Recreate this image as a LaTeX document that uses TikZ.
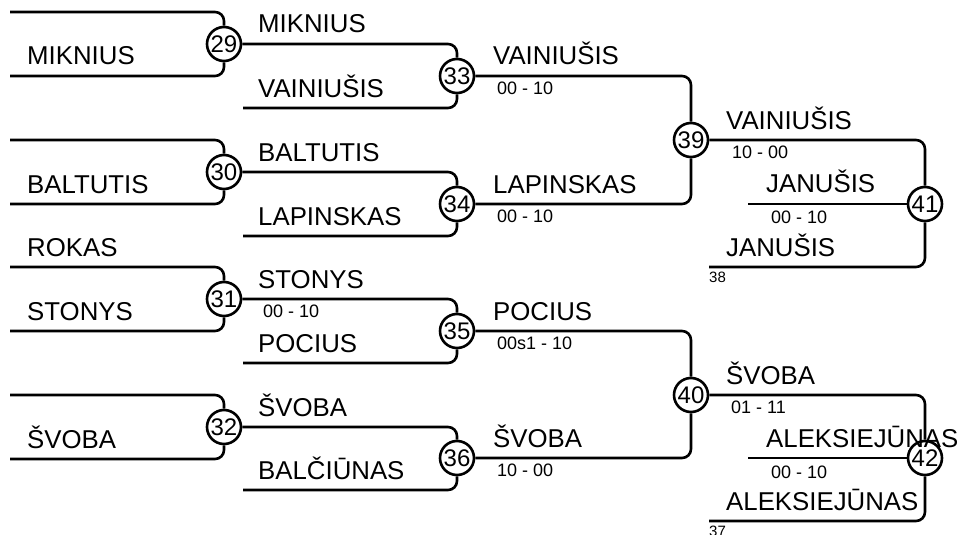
\documentclass[tikz,border=0pt]{standalone}
\usepackage{fontspec}
\setmainfont{Liberation Sans}
\begin{document}
\begin{tikzpicture}[x=1pt,y=-1pt,
  wire/.style={line width=2.6pt, rounded corners=9pt},
  num/.style={circle, draw, line width=2.6pt, fill=white, minimum size=34pt, inner sep=0pt, font=\fontsize{24}{24}\selectfont},
  pname/.style={anchor=base west, inner sep=0pt, font=\fontsize{25.8}{30}\selectfont},
  pscore/.style={anchor=base west, inner sep=0pt, font=\fontsize{18}{20}\selectfont},
  pseed/.style={anchor=base west, inner sep=0pt, font=\fontsize{15}{16}\selectfont}]
\useasboundingbox[fill=white] (0,0) rectangle (963,535);
% match circles
\node[num] (c29) at (224,44) {29};
\node[num] (c30) at (224,172) {30};
\node[num] (c31) at (224,299) {31};
\node[num] (c32) at (224,427) {32};
\node[num] (c33) at (457,76) {33};
\node[num] (c34) at (457,204) {34};
\node[num] (c35) at (457,331) {35};
\node[num] (c36) at (457,458) {36};
\node[num] (c39) at (691,140) {39};
\node[num] (c40) at (691,395) {40};
\node[num] (c41) at (925,204) {41};
\node[num] (c42) at (925,458) {42};
% free line ends
\coordinate (s29t) at (10,12);  \coordinate (s29b) at (10,76);
\coordinate (s30t) at (10,140); \coordinate (s30b) at (10,204);
\coordinate (s31t) at (10,267); \coordinate (s31b) at (10,331);
\coordinate (s32t) at (10,395); \coordinate (s32b) at (10,459);
\coordinate (s33b) at (243,108); \coordinate (s34b) at (243,236);
\coordinate (s35b) at (243,363); \coordinate (s36b) at (243,490);
\coordinate (m41) at (748,204); \coordinate (b41) at (709,267);
\coordinate (m42) at (748,458); \coordinate (b42) at (709,521);
% first round brackets
\foreach \m in {29,30,31,32}{
  \draw[wire] (s\m t) -| (c\m.north);
  \draw[wire] (s\m b) -| (c\m.south);
}
% second round
\draw[wire] (c29.east) -| (c33.north);
\draw[wire] (s33b) -| (c33.south);
\draw[wire] (c30.east) -| (c34.north);
\draw[wire] (s34b) -| (c34.south);
\draw[wire] (c31.east) -| (c35.north);
\draw[wire] (s35b) -| (c35.south);
\draw[wire] (c32.east) -| (c36.north);
\draw[wire] (s36b) -| (c36.south);
% third round
\draw[wire] (c33.east) -| (c39.north);
\draw[wire] (c34.east) -| (c39.south);
\draw[wire] (c35.east) -| (c40.north);
\draw[wire] (c36.east) -| (c40.south);
% final matches
\draw[wire] (c39.east) -| (c41.north);
\draw[wire] (m41) -- (c41.west);
\draw[wire] (b41) -| (c41.south);
\draw[wire] (c40.east) -| (c42.north);
\draw[wire] (m42) -- (c42.west);
\draw[wire] (b42) -| (c42.south);
% column 1 names
\node[pname] (n1) at (27,65) {MIKNIUS};
\node[pname] (n2) at (27,193) {BALTUTIS};
\node[pname] (n3) at (27,256) {ROKAS};
\node[pname] (n4) at (27,320) {STONYS};
\node[pname] (n5) at (27,448) {ŠVOBA};
% column 2 names
\node[pname] (n6) at (258,33) {MIKNIUS};
\node[pname] (n7) at (258,97) {VAINIUŠIS};
\node[pname] (n8) at (258,161) {BALTUTIS};
\node[pname] (n9) at (258,225) {LAPINSKAS};
\node[pname] (n10) at (258,288) {STONYS};
\node[pscore] (r1) at (263,317) {00 - 10};
\node[pname] (n11) at (258,352) {POCIUS};
\node[pname] (n12) at (258,416) {ŠVOBA};
\node[pname] (n13) at (258,479) {BALČIŪNAS};
% column 3 names
\node[pname] (n14) at (493,65) {VAINIUŠIS};
\node[pscore] (r2) at (497,94) {00 - 10};
\node[pname] (n15) at (493,193) {LAPINSKAS};
\node[pscore] (r3) at (497,222) {00 - 10};
\node[pname] (n16) at (493,320) {POCIUS};
\node[pscore] (r4) at (497,349) {00s1 - 10};
\node[pname] (n17) at (493,447) {ŠVOBA};
\node[pscore] (r5) at (497,476) {10 - 00};
% column 4 names
\node[pname] (n18) at (726,129) {VAINIUŠIS};
\node[pscore] (r6) at (732,158) {10 - 00};
\node[pname] (n19) at (766,192) {JANUŠIS};
\node[pscore] (r7) at (771,223) {00 - 10};
\node[pname] (n20) at (726,256) {JANUŠIS};
\node[pseed] (d1) at (709,282) {38};
\node[pname] (n21) at (726,384) {ŠVOBA};
\node[pscore] (r8) at (731,413) {01 - 11};
\node[pname] (n22) at (766,447) {ALEKSIEJŪNAS};
\node[pscore] (r9) at (771,478) {00 - 10};
\node[pname] (n23) at (726,510) {ALEKSIEJŪNAS};
\node[pseed] (d2) at (709,536) {37};
\end{tikzpicture}
\end{document}
